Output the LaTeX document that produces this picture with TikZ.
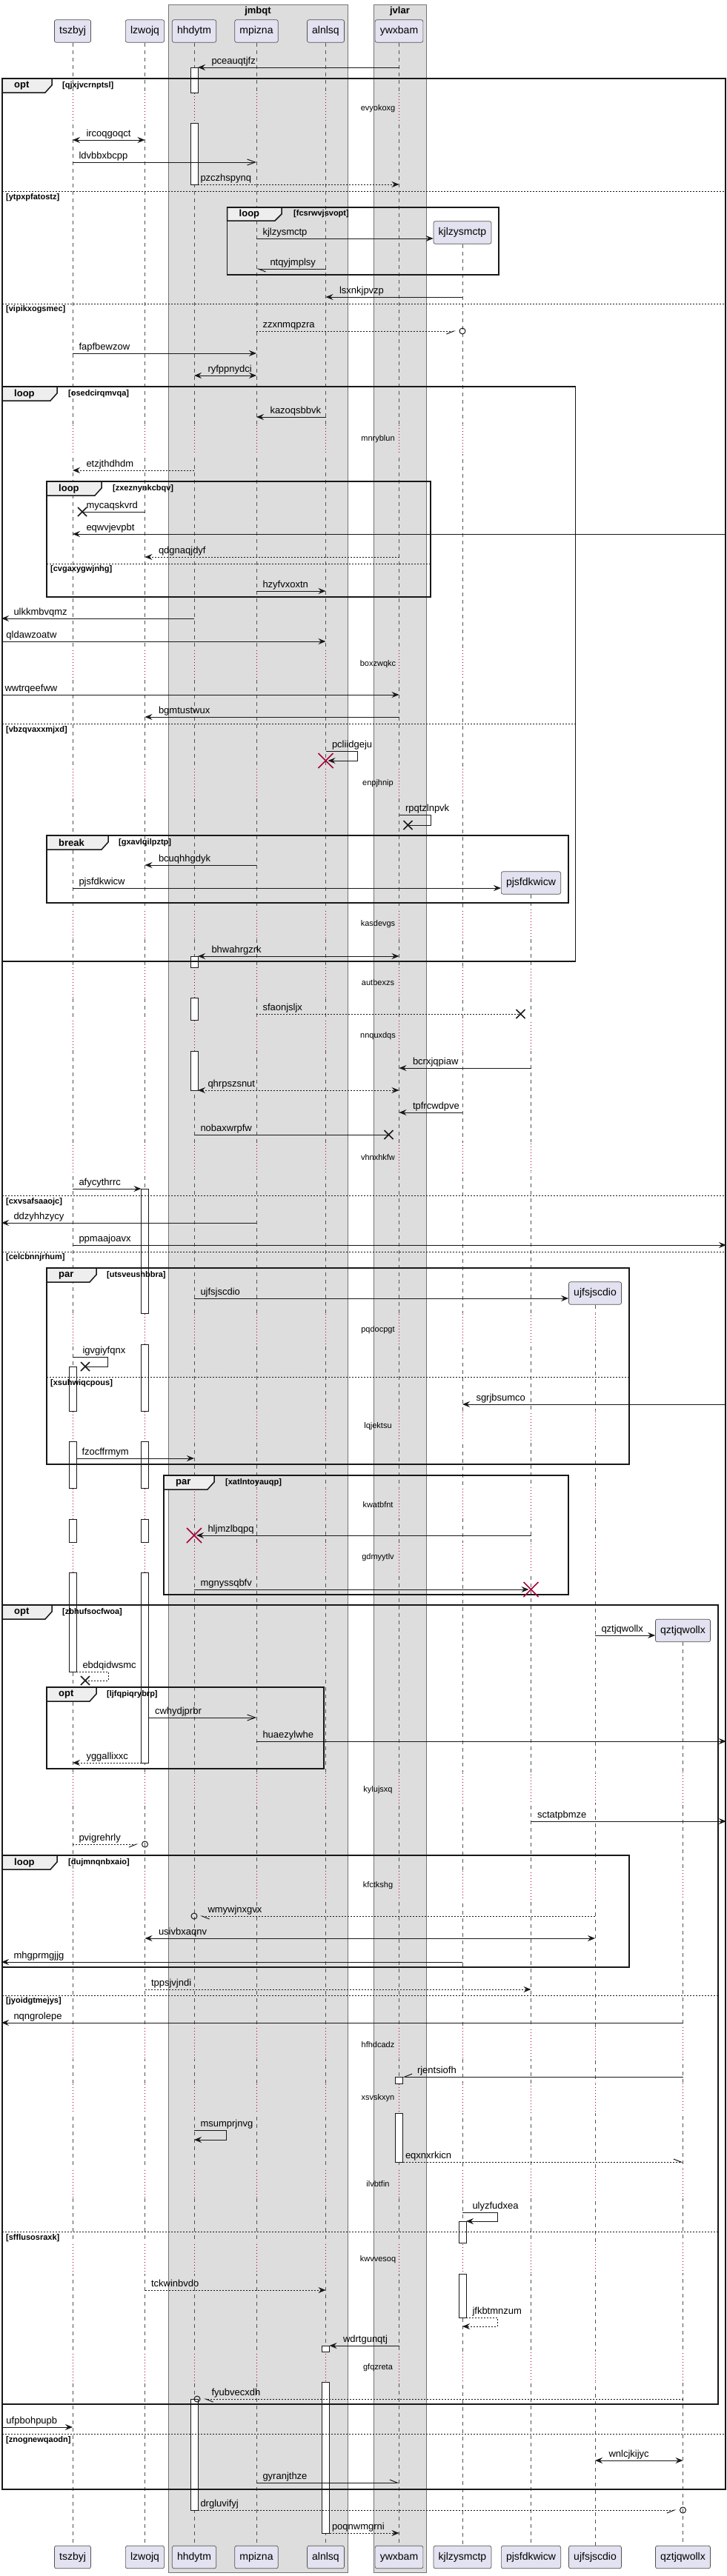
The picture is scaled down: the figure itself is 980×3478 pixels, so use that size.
\documentclass[tikz,border=0pt]{standalone}
\usepackage{fontspec}
\setmainfont{Liberation Sans}
\usetikzlibrary{arrows.meta}

\definecolor{partfill}{HTML}{E2E2F0}
\definecolor{lanefill}{HTML}{DDDDDD}
\definecolor{tabfill}{HTML}{EEEEEE}
\definecolor{waitred}{HTML}{A80036}
\definecolor{ink}{HTML}{181818}

\tikzset{
  part/.style={draw=ink!75,line width=.7pt,fill=partfill,rounded corners=2.5pt,
    minimum height=30.5pt,inner xsep=6.7pt,inner ysep=0pt,font=\fontsize{14}{16}\selectfont},
  lane/.style={draw=ink!60,line width=.7pt,fill=lanefill},
  lanetitle/.style={font=\bfseries\fontsize{13}{15}\selectfont,inner sep=0pt},
  life/.style={draw=ink!75,line width=.6pt,dash pattern=on 5pt off 5pt},
  wait/.style={draw=waitred,line width=.7pt,dash pattern=on 1pt off 3pt},
  waittxt/.style={font=\fontsize{11}{13}\selectfont,inner sep=0pt},
  grp/.style={draw=ink,line width=1.5pt},
  grptab/.style={draw=ink,line width=1.5pt,fill=tabfill},
  grpkind/.style={font=\bfseries\fontsize{13}{15}\selectfont,inner sep=0pt,anchor=west},
  guard/.style={font=\bfseries\fontsize{11}{13}\selectfont,inner sep=0pt,anchor=west},
  divider/.style={draw=ink,line width=1pt,dash pattern=on 2pt off 2pt},
  act/.style={draw=ink,line width=.8pt,fill=white},
  msg/.style={draw=ink,line width=1pt},
  ret/.style={msg,dash pattern=on 2pt off 2pt},
  barbhead/.style={-{Straight Barb[length=11pt,width=8pt]}},
  upR/.style={-{Straight Barb[harpoon,length=10pt,width=8pt]}},
  lowR/.style={-{Straight Barb[harpoon,swap,length=10pt,width=8pt]}},
  lowL/.style={-{Straight Barb[harpoon,length=10pt,width=8pt]}},
  upL/.style={-{Straight Barb[harpoon,swap,length=10pt,width=8pt]}},
  lbl/.style={font=\fontsize{13}{15}\selectfont,inner sep=0pt,anchor=base west,yshift=5pt},
  lr/.style={lbl,xshift=8pt},
  ll/.style={lbl,xshift=18pt},
  cross/.pic={\draw[ink,line width=1.5pt] (-6pt,-6pt) -- (6pt,6pt) (-6pt,6pt) -- (6pt,-6pt);},
  kill/.pic={\draw[waitred,line width=1.5pt] (-10pt,-10pt) -- (10pt,10pt) (-10pt,10pt) -- (10pt,-10pt);}
}

\def\delays{125/166,573/613,875/915,1037/1077,1228/1268,1306/1347,1377/1419,1542/1582,
  1773/1815,1905/1946,2009/2051,2082/2123,2393/2435,2525/2565,2737/2780,2813/2853,
  2928/2968,3028/3070,3175/3216}

\begin{document}
\begin{tikzpicture}[x=1pt,y=-1pt,>={Stealth[length=10pt,width=8pt,inset=3.5pt]}]
\useasboundingbox (0,0) rectangle (980,3478);
\coordinate (west) at (2,0);
\coordinate (east) at (980,0);

% lanes
\draw[lane] (227,6) rectangle (469,3473);
\draw[lane] (504,6) rectangle (575,3473);
\node[lanetitle] (jmbqt) at (348,15) {jmbqt};
\node[lanetitle] (jvlar) at (539.5,15) {jvlar};

% participants
\node[part] (tszbyj) at (98,42) {tszbyj};
\node[part] (lzwojq) at (195.5,42) {lzwojq};
\node[part] (hhdytm) at (262,42) {hhdytm};
\node[part] (mpizna) at (346,42) {mpizna};
\node[part] (alnlsq) at (439.5,42) {alnlsq};
\node[part] (ywxbam) at (538.5,42) {ywxbam};
\node[part] (kjlzysmctp) at (624,314) {kjlzysmctp};
\node[part] (pjsfdkwicw) at (716.5,1192) {pjsfdkwicw};
\node[part] (ujfsjscdio) at (803,1746) {ujfsjscdio};
\node[part] (qztjqwollx) at (921.5,2201.5) {qztjqwollx};
\node[part] (tszbyj-b) at (98,3452.5) {tszbyj};
\node[part] (lzwojq-b) at (195.5,3452.5) {lzwojq};
\node[part] (hhdytm-b) at (262,3452.5) {hhdytm};
\node[part] (mpizna-b) at (346,3452.5) {mpizna};
\node[part] (alnlsq-b) at (439.5,3452.5) {alnlsq};
\node[part] (ywxbam-b) at (538.5,3452.5) {ywxbam};
\node[part] (kjlzysmctp-b) at (624,3452.5) {kjlzysmctp};
\node[part] (pjsfdkwicw-b) at (716.5,3452.5) {pjsfdkwicw};
\node[part] (ujfsjscdio-b) at (803,3452.5) {ujfsjscdio};
\node[part] (qztjqwollx-b) at (921.5,3452.5) {qztjqwollx};

% lifelines, dotted red where the diagram waits
\begin{scope}
\clip (0,0) rectangle (980,3478) \foreach \a/\b in \delays {(980,\a) rectangle (0,\b)};
\foreach \n in {tszbyj,lzwojq,hhdytm,mpizna,alnlsq,ywxbam,kjlzysmctp,pjsfdkwicw,ujfsjscdio,qztjqwollx}
  \draw[life] (\n.south) -- (\n-b.north);
\end{scope}
\begin{scope}
\clip \foreach \a/\b in \delays {(0,\a) rectangle (980,\b)};
\foreach \n in {tszbyj,lzwojq,hhdytm,mpizna,alnlsq,ywxbam,kjlzysmctp,pjsfdkwicw,ujfsjscdio,qztjqwollx}
  \draw[wait] (\n.south) -- (\n-b.north);
\end{scope}
\foreach \t/\y in {evyokoxg/147,mnryblun/593,boxzwqkc/897,enpjhnip/1058,kasdevgs/1248,
  autbexzs/1327,nnquxdqs/1399,vhnxhkfw/1562,pqdocpgt/1796,lqjektsu/1926,kwatbfnt/2032,
  gdmyytlv/2103,kylujsxq/2417,kfctkshg/2546,hfhdcadz/2761,xsvskxyn/2833,ilvbtfin/2949,
  kwvvesoq/3051,gfqzreta/3197}
  \node[waittxt] (w-\t) at (510,\y) {\t};

% activations
\foreach \n/\a/\b in {hhdytm/91/125,hhdytm/166/249,hhdytm/1291/1306,hhdytm/1347/1377,
  hhdytm/1419/1472,hhdytm/3239/3389,lzwojq/1605/1773,lzwojq/1815/1905,lzwojq/1946/2009,
  lzwojq/2051/2082,lzwojq/2123/2380,tszbyj/1845/1905,tszbyj/1946/2009,tszbyj/2051/2082,
  tszbyj/2123/2257,ywxbam/2804/2813,ywxbam/2853/2919,kjlzysmctp/2999/3028,
  kjlzysmctp/3070/3129,alnlsq/3167/3175,alnlsq/3216/3420}
  \draw[act] ([xshift=-5pt]\n |- 0,\a) rectangle ([xshift=5pt]\n |- 0,\b);

% opt qjxjvcrnptsl
\draw[grp] (3,106) rectangle (979,3361);
\draw[grptab] (3,106) -- (70,106) -- (70,115) -- (61,125) -- (3,125) -- cycle;
\node[grpkind] (f1) at (19,116) {opt};
\node[guard] (g1) at (84,116) {[qjxjvcrnptsl]};
\draw[divider] (3,258) -- (979,258);
\node[guard] (s1) at (8,267) {[ytpxpfatostz]};
\draw[divider] (3,410) -- (979,410);
\node[guard] (s2) at (8,418) {[vipikxogsmec]};
\draw[divider] (3,1614) -- (979,1614);
\node[guard] (s3) at (8,1623) {[cxvsafsaaojc]};
\draw[divider] (3,1690) -- (979,1690);
\node[guard] (s4) at (8,1698) {[celcbnnjrhum]};
\draw[divider] (3,3286) -- (979,3286);
\node[guard] (s5) at (8,3295) {[znognewqaodn]};

% loop fcsrwvjsvopt
\draw[grp] (306.5,280) rectangle (673,371);
\draw[grptab] (306.5,280) -- (380,280) -- (380,289) -- (371,298) -- (306.5,298) -- cycle;
\node[grpkind] (f2) at (322.5,289) {loop};
\node[guard] (g2) at (396,289) {[fcsrwvjsvopt]};

% loop osedcirqmvqa
\draw[grp] (3,522) rectangle (776.6,1298);
\draw[grptab] (3,522) -- (77,522) -- (77,531) -- (68,541) -- (3,541) -- cycle;
\node[grpkind] (f3) at (19,532) {loop};
\node[guard] (g3) at (92,532) {[osedcirqmvqa]};
\draw[divider] (3,977) -- (776.6,977);
\node[guard] (s6) at (8,986) {[vbzqvaxxmjxd]};

% loop zxeznynkcbqv
\draw[grp] (63,650) rectangle (581,806);
\draw[grptab] (63,650) -- (137,650) -- (137,659) -- (128,669) -- (63,669) -- cycle;
\node[grpkind] (f4) at (79,660) {loop};
\node[guard] (g4) at (152,660) {[zxeznynkcbqv]};
\draw[divider] (63,761) -- (581,761);
\node[guard] (s7) at (68,769) {[cvgaxygwjnhg]};

% break gxavlqilpztp
\draw[grp] (63,1128) rectangle (767,1219);
\draw[grptab] (63,1128) -- (146,1128) -- (146,1137) -- (137,1147) -- (63,1147) -- cycle;
\node[grpkind] (f5) at (79,1138) {break};
\node[guard] (g5) at (160,1138) {[gxavlqilpztp]};

% par utsveushbbra
\draw[grp] (63,1712) rectangle (849,1977);
\draw[grptab] (63,1712) -- (130,1712) -- (130,1721) -- (121,1731) -- (63,1731) -- cycle;
\node[grpkind] (f6) at (79,1722) {par};
\node[guard] (g6) at (144,1722) {[utsveushbbra]};
\draw[divider] (63,1859) -- (849,1859);
\node[guard] (s8) at (68,1868) {[xsuhwiqcpous]};

% par xatlntoyauqp
\draw[grp] (221,1992) rectangle (767,2153);
\draw[grptab] (221,1992) -- (289,1992) -- (289,2001) -- (280,2011) -- (221,2011) -- cycle;
\node[grpkind] (f7) at (237,2002) {par};
\node[guard] (g7) at (304,2002) {[xatlntoyauqp]};

% opt zbhufsocfwoa
\draw[grp] (3,2167) rectangle (969,3246);
\draw[grptab] (3,2167) -- (70,2167) -- (70,2176) -- (61,2186) -- (3,2186) -- cycle;
\node[grpkind] (f8) at (19,2177) {opt};
\node[guard] (g8) at (84,2177) {[zbhufsocfwoa]};
\draw[divider] (3,2694) -- (969,2694);
\node[guard] (s9) at (8,2702) {[jyoidgtmejys]};
\draw[divider] (3,3013) -- (969,3013);
\node[guard] (s10) at (8,3022) {[sfflusosraxk]};

% opt ljfqpiqrybrp
\draw[grp] (63,2278) rectangle (437,2388);
\draw[grptab] (63,2278) -- (130,2278) -- (130,2287) -- (121,2297) -- (63,2297) -- cycle;
\node[grpkind] (f9) at (79,2288) {opt};
\node[guard] (g9) at (144,2288) {[ljfqpiqrybrp]};

% loop dujmnqnbxaio
\draw[grp] (3,2505) rectangle (849,2656);
\draw[grptab] (3,2505) -- (77,2505) -- (77,2514) -- (68,2524) -- (3,2524) -- cycle;
\node[grpkind] (f10) at (19,2515) {loop};
\node[guard] (g10) at (92,2515) {[dujmnqnbxaio]};

% messages
\draw[msg,->] (ywxbam |- 0,91) -- ([xshift=5pt]hhdytm |- 0,91) node[ll] (m1) {pceauqtjfz};
\draw[msg,<->] (tszbyj |- 0,189) node[ll] (m2) {ircoqgoqct} -- (lzwojq |- 0,189);
\draw[msg,barbhead] (tszbyj |- 0,219) node[lr] (m3) {ldvbbxbcpp} -- (mpizna |- 0,219);
\draw[ret,->] ([xshift=5pt]hhdytm |- 0,249) node[lbl,xshift=3pt] (m4) {pzczhspynq} -- (ywxbam |- 0,249);
\draw[msg,->] (mpizna |- 0,322) node[lr] (m5) {kjlzysmctp} -- (kjlzysmctp.west |- 0,322);
\draw[msg,lowL] (alnlsq |- 0,363) -- (mpizna |- 0,363) node[ll] (m6) {ntqyjmplsy};
\draw[msg,->] (kjlzysmctp |- 0,401) -- (alnlsq |- 0,401) node[ll] (m7) {lsxnkjpvzp};
\draw[ret,lowR] (mpizna |- 0,447) node[lr] (m8) {zzxnmqpzra} -- ([xshift=-9pt]kjlzysmctp |- 0,447);
\draw[msg] (kjlzysmctp |- 0,447) circle[radius=4pt];
\draw[msg,->] (tszbyj |- 0,477) node[lr] (m9) {fapfbewzow} -- (mpizna |- 0,477);
\draw[msg,<->] (hhdytm |- 0,507) node[ll] (m10) {ryfppnydci} -- (mpizna |- 0,507);
\draw[msg,->] (alnlsq |- 0,563) -- (mpizna |- 0,563) node[ll] (m11) {kazoqsbbvk};
\draw[ret,->] (hhdytm |- 0,635) -- (tszbyj |- 0,635) node[ll] (m12) {etzjthdhdm};
\draw[msg] (lzwojq |- 0,691) -- ([xshift=13pt]tszbyj |- 0,691) node[lbl,xshift=5pt] (m13) {mycaqskvrd};
\pic at ([xshift=13pt]tszbyj |- 0,691) {cross};
\draw[msg,->] (east |- 0,721) -- (tszbyj |- 0,721) node[ll] (m14) {eqwvjevpbt};
\draw[ret,->] (ywxbam |- 0,752) -- (lzwojq |- 0,752) node[ll] (m15) {qdgnaqjdyf};
\draw[msg,->] (mpizna |- 0,798) node[lr] (m16) {hzyfvxoxtn} -- (alnlsq |- 0,798);
\draw[msg,->] (hhdytm |- 0,835) -- (west |- 0,835) node[lbl,xshift=16pt] (m17) {ulkkmbvqmz};
\draw[msg,->] (west |- 0,866) node[lbl,xshift=6pt] (m18) {qldawzoatw} -- (alnlsq |- 0,866);
\draw[msg,->] (west |- 0,938) node[lbl,xshift=4pt] (m19) {wwtrqeefww} -- (ywxbam |- 0,938);
\draw[msg,->] (ywxbam |- 0,968) -- (lzwojq |- 0,968) node[ll] (m20) {bgmtustwux};
\draw[msg,->] (alnlsq |- 0,1014) node[lr] (m21) {pcliidgeju} -- ++(43,0) -- ++(0,13) -- ([xshift=3pt]alnlsq |- 0,1027);
\pic at (alnlsq |- 0,1027) {kill};
\draw[msg] (ywxbam |- 0,1100) node[lr] (m22) {rpqtzlnpvk} -- ++(43,0) -- ++(0,14) -- ([xshift=12pt]ywxbam |- 0,1114);
\pic at ([xshift=12pt]ywxbam |- 0,1114) {cross};
\draw[msg,->] (mpizna |- 0,1168) -- (lzwojq |- 0,1168) node[ll] (m23) {bcuqhhgdyk};
\draw[msg,->] (tszbyj |- 0,1199) node[lr] (m24) {pjsfdkwicw} -- (pjsfdkwicw.west |- 0,1199);
\draw[msg,<->] ([xshift=5pt]hhdytm |- 0,1291) node[ll] (m25) {bhwahrgzrk} -- (ywxbam |- 0,1291);
\draw[ret] (mpizna |- 0,1369) node[lr] (m26) {sfaonjsljx} -- ([xshift=-14pt]pjsfdkwicw |- 0,1369);
\pic at ([xshift=-14pt]pjsfdkwicw |- 0,1369) {cross};
\draw[msg,->] (pjsfdkwicw |- 0,1442) -- (ywxbam |- 0,1442) node[ll] (m27) {bcrxjqpiaw};
\draw[ret,<->] ([xshift=5pt]hhdytm |- 0,1472) node[lbl,xshift=13pt] (m28) {qhrpszsnut} -- (ywxbam |- 0,1472);
\draw[msg,->] (kjlzysmctp |- 0,1502) -- (ywxbam |- 0,1502) node[ll] (m29) {tpfrcwdpve};
\draw[msg] (hhdytm |- 0,1532) node[lr] (m30) {nobaxwrpfw} -- ([xshift=-14pt]ywxbam |- 0,1532);
\pic at ([xshift=-14pt]ywxbam |- 0,1532) {cross};
\draw[msg,->] (tszbyj |- 0,1605) node[lr] (m31) {afycythrrc} -- ([xshift=-5pt]lzwojq |- 0,1605);
\draw[msg,->] (mpizna |- 0,1651) -- (west |- 0,1651) node[lbl,xshift=16pt] (m32) {ddzyhhzycy};
\draw[msg,->] (tszbyj |- 0,1681) node[lr] (m33) {ppmaajoavx} -- (east |- 0,1681);
\draw[msg,->] (hhdytm |- 0,1753) node[lr] (m34) {ujfsjscdio} -- (ujfsjscdio.west |- 0,1753);
\draw[msg] (tszbyj |- 0,1832) node[lbl,xshift=13pt] (m35) {igvgiyfqnx} -- ++(47,0) -- ++(0,13) -- ([xshift=17pt]tszbyj |- 0,1845);
\pic at ([xshift=17pt]tszbyj |- 0,1845) {cross};
\draw[msg,->] (east |- 0,1896) -- (kjlzysmctp |- 0,1896) node[ll] (m36) {sgrjbsumco};
\draw[msg,->] ([xshift=5pt]tszbyj |- 0,1969) node[lbl,xshift=7pt] (m37) {fzocffrmym} -- (hhdytm |- 0,1969);
\draw[msg,->] (pjsfdkwicw |- 0,2073) -- ([xshift=3pt]hhdytm |- 0,2073) node[lbl,xshift=15pt] (m38) {hljmzlbqpq};
\pic at (hhdytm |- 0,2073) {kill};
\draw[msg,->] (hhdytm |- 0,2146) node[lr] (m39) {mgnyssqbfv} -- ([xshift=-3pt]pjsfdkwicw |- 0,2146);
\pic at (pjsfdkwicw |- 0,2146) {kill};
\draw[msg,->] (ujfsjscdio |- 0,2208) node[lr] (m40) {qztjqwollx} -- (qztjqwollx.west |- 0,2208);
\draw[ret] ([xshift=5pt]tszbyj |- 0,2257) node[lbl,xshift=8pt] (m41) {ebdqidwsmc} -- ++(43,0) -- ++(0,12) -- ([xshift=17pt]tszbyj |- 0,2269);
\pic at ([xshift=17pt]tszbyj |- 0,2269) {cross};
\draw[msg,barbhead] ([xshift=5pt]lzwojq |- 0,2319) node[lbl,xshift=8pt] (m42) {cwhydjprbr} -- (mpizna |- 0,2319);
\draw[msg,->] (mpizna |- 0,2351) node[lr] (m43) {huaezylwhe} -- (east |- 0,2351);
\draw[ret,->] ([xshift=-5pt]lzwojq |- 0,2380) -- (tszbyj |- 0,2380) node[ll] (m44) {yggallixxc};
\draw[msg,->] (pjsfdkwicw |- 0,2459) node[lr] (m45) {sctatpbmze} -- (east |- 0,2459);
\draw[ret,lowR] (tszbyj |- 0,2490) node[lr] (m46) {pvigrehrly} -- ([xshift=-9pt]lzwojq |- 0,2490);
\draw[msg] (lzwojq |- 0,2490) circle[radius=4pt];
\draw[ret,lowL] (ujfsjscdio |- 0,2587) -- ([xshift=8pt]hhdytm |- 0,2587) node[lbl,xshift=10pt] (m47) {wmywjnxgvx};
\draw[msg] (hhdytm |- 0,2587) circle[radius=4pt];
\draw[msg,<->] (lzwojq |- 0,2617) node[ll] (m48) {usivbxaqnv} -- (ujfsjscdio |- 0,2617);
\draw[msg,->] (kjlzysmctp |- 0,2649) -- (west |- 0,2649) node[lbl,xshift=16pt] (m49) {mhgprmgjjg};
\draw[ret,->] (lzwojq |- 0,2686) node[lr] (m50) {tppsjvjndi} -- (pjsfdkwicw |- 0,2686);
\draw[msg,->] (qztjqwollx |- 0,2731) -- (west |- 0,2731) node[lbl,xshift=16pt] (m51) {nqngrolepe};
\draw[msg,upL] (qztjqwollx |- 0,2804) -- ([xshift=5pt]ywxbam |- 0,2804) node[lbl,xshift=19pt] (m52) {rjentsiofh};
\draw[msg,->] (hhdytm |- 0,2876) node[lr] (m53) {msumprjnvg} -- ++(43,0) -- ++(0,13) -- (hhdytm |- 0,2889);
\draw[ret,upR] ([xshift=5pt]ywxbam |- 0,2919) node[lbl,xshift=3pt] (m54) {eqxnxrkicn} -- (qztjqwollx |- 0,2919);
\draw[msg,->] (kjlzysmctp |- 0,2987) node[lbl,xshift=13pt] (m55) {ulyzfudxea} -- ++(47,0) -- ++(0,12) -- ([xshift=5pt]kjlzysmctp |- 0,2999);
\draw[ret,->] (lzwojq |- 0,3092) node[lr] (m56) {tckwinbvdo} -- (alnlsq |- 0,3092);
\draw[ret,->] ([xshift=5pt]kjlzysmctp |- 0,3129) node[lbl,xshift=8pt] (m57) {jfkbtmnzum} -- ++(42,0) -- ++(0,12) -- (kjlzysmctp |- 0,3141);
\draw[msg,->] (ywxbam |- 0,3167) -- ([xshift=5pt]alnlsq |- 0,3167) node[ll] (m58) {wdrtgunqtj};
\draw[ret,lowL] (qztjqwollx |- 0,3239) -- ([xshift=13pt]hhdytm |- 0,3239) node[lbl,xshift=10pt] (m59) {fyubvecxdh};
\draw[msg] ([xshift=4pt]hhdytm |- 0,3239) circle[radius=4pt];
\draw[msg,->] (west |- 0,3277) node[lbl,xshift=6pt] (m60) {ufpbohpupb} -- (tszbyj |- 0,3277);
\draw[msg,<->] (ujfsjscdio |- 0,3322) node[ll] (m61) {wnlcjkijyc} -- (qztjqwollx |- 0,3322);
\draw[msg,upR] (mpizna |- 0,3352) node[lr] (m62) {gyranjthze} -- (ywxbam |- 0,3352);
\draw[ret,lowR] ([xshift=5pt]hhdytm |- 0,3389) node[lbl,xshift=3pt] (m63) {drgluvifyj} -- ([xshift=-9pt]qztjqwollx |- 0,3389);
\draw[msg] (qztjqwollx |- 0,3389) circle[radius=4pt];
\draw[ret,->] ([xshift=5pt]alnlsq |- 0,3420) node[lbl,xshift=3pt] (m64) {poqnwmgrni} -- (ywxbam |- 0,3420);
\end{tikzpicture}
\end{document}
